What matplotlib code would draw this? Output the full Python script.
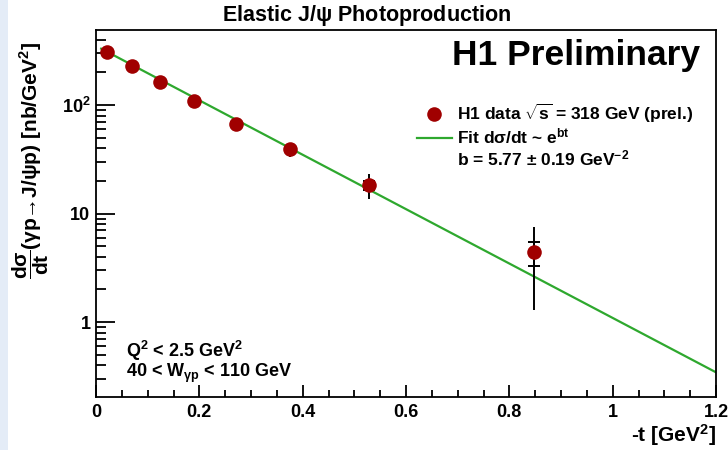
import numpy as np
import matplotlib
matplotlib.use("Agg")
import matplotlib.pyplot as plt
from matplotlib.lines import Line2D
from matplotlib.patches import Rectangle

plt.rcParams['font.family'] = ['Liberation Sans', 'DejaVu Sans']
plt.rcParams['font.weight'] = 'bold'
plt.rcParams['mathtext.fontset'] = 'custom'
plt.rcParams['mathtext.rm'] = 'Liberation Sans:bold'
plt.rcParams['mathtext.it'] = 'Liberation Sans:bold'
plt.rcParams['mathtext.bf'] = 'Liberation Sans:bold'
plt.rcParams['mathtext.sf'] = 'Liberation Sans:bold'

# Measured cross sections (nb/GeV^2) versus -t (GeV^2)
t_vals = [0.021, 0.070, 0.124, 0.190, 0.271, 0.376, 0.529, 0.847]
dsig_dt = [307, 229, 163, 109, 67, 39, 18.3, 4.4]
err_stat = [8, 6, 4, 3, 2, 1.5, 1.8, 1.1]
err_tot = [16, 12, 8, 6, 4, 6, 4.6, 3.1]

# Exponential fit dsigma/dt = A * exp(-b |t|)
fit_A = 350.0
fit_b = 5.77
fit_b_err = 0.19
fit_range = [0.01, 1.2]

x_ticks = [0, 0.2, 0.4, 0.6, 0.8, 1.0, 1.2]
x_ticklabels = ['0', '0.2', '0.4', '0.6', '0.8', '1', '1.2']
y_ticks = [1, 10, 100]
y_ticklabels = ['1', '10', r'10$^{2}$']

W, H = 728, 450
fig = plt.figure(figsize=(W / 100, H / 100), dpi=100)
fig.patch.set_facecolor('white')
fig.patches.append(Rectangle((0, 0), 8 / W, 1, transform=fig.transFigure,
                             facecolor='#e4ecf7', edgecolor='none', zorder=0))

ax = fig.add_axes([96 / W, 1 - 397 / H, 620 / W, 367 / H])
ax.set_yscale('log')
ax.set_xlim(0, 1.2)
ax.set_ylim(0.204, 491)

tfit = np.linspace(fit_range[0], fit_range[1], 200)
ax.plot(tfit, fit_A * np.exp(-fit_b * tfit), color='#2ea82e', lw=1.6, zorder=2)

ax.errorbar(t_vals, dsig_dt, yerr=err_tot, fmt='none', ecolor='black',
            elinewidth=1.4, capsize=0, zorder=3)
ax.errorbar(t_vals, dsig_dt, yerr=err_stat, fmt='none', ecolor='black',
            elinewidth=1.4, capsize=4, capthick=1.4, zorder=3)
ax.plot(t_vals, dsig_dt, 'o', color='#a00000', markersize=10.5,
        markeredgewidth=0, zorder=4)

ax.set_xticks(x_ticks)
ax.set_xticklabels(x_ticklabels)
ax.set_xticks(np.arange(0, 1.2001, 0.05), minor=True)
ax.set_yticks(y_ticks)
ax.set_yticklabels(y_ticklabels)
ax.yaxis.set_minor_locator(matplotlib.ticker.LogLocator(base=10, subs=np.arange(2, 10)))
ax.yaxis.set_minor_formatter(matplotlib.ticker.NullFormatter())

ax.tick_params(axis='both', which='both', direction='in', top=False, right=False,
               labelsize=13, width=1.3)
ax.tick_params(axis='x', which='major', length=9, pad=5)
ax.tick_params(axis='x', which='minor', length=5)
ax.tick_params(axis='y', which='major', length=14, pad=4)
ax.tick_params(axis='y', which='minor', length=7)
for lab in ax.get_xticklabels() + ax.get_yticklabels():
    lab.set_fontweight('bold')
for sp in ax.spines.values():
    sp.set_linewidth(1.3)

fig.text(0.5 + 3 / W, 1 - 16 / H, r'Elastic J/$\psi$ Photoproduction', ha='center',
         va='center', fontsize=15.5, fontweight='bold')
ax.text(0.975, 0.93, 'H1 Preliminary', transform=ax.transAxes, ha='right',
        va='center', fontsize=25.5, fontweight='bold')

ax.set_xlabel(r'-t [GeV$^{2}$]', fontsize=15, fontweight='bold')
ax.xaxis.label.set_ha('right')
ax.xaxis.label.set_va('center')
ax.xaxis.set_label_coords(1.0, (397 - 435) / 367)

fig.text(31 / W, 1 - 160 / H,
         r'$\dfrac{d\sigma}{dt}$(γp→J/ψp) [nb/GeV$^{2}$]',
         rotation=90, ha='center', va='center', fontsize=15, fontweight='bold')

handles = [Line2D([], [], marker='o', ls='none', color='#a00000', markersize=10.5,
                  markeredgewidth=0),
           Line2D([], [], color='#2ea82e', lw=1.6),
           Line2D([], [], ls='none')]
labels = [r'H1 data $\sqrt{s}$ = 318 GeV (prel.)',
          r'Fit d$\sigma$/dt ~ e$^{bt}$',
          r'b = %.2f $\pm$ %.2f GeV$^{-2}$' % (fit_b, fit_b_err)]
leg = ax.legend(handles, labels, loc='upper left',
                bbox_to_anchor=((417 - 96) / 620, (397 - 102) / 367),
                frameon=False, fontsize=12.5, handlelength=2.0,
                handletextpad=0.3, labelspacing=0.1, borderpad=0,
                borderaxespad=0)
for txt in leg.get_texts():
    txt.set_fontweight('bold')

ax.text((126 - 96) / 620, (397 - 351) / 367, r'Q$^{2}$ < 2.5 GeV$^{2}$',
        transform=ax.transAxes, ha='left', va='center', fontsize=13,
        fontweight='bold')
ax.text((126 - 96) / 620, (397 - 373) / 367, r'40 < W$_{\gamma p}$ < 110 GeV',
        transform=ax.transAxes, ha='left', va='center', fontsize=13,
        fontweight='bold')

fig.savefig('out.png', dpi=100)
